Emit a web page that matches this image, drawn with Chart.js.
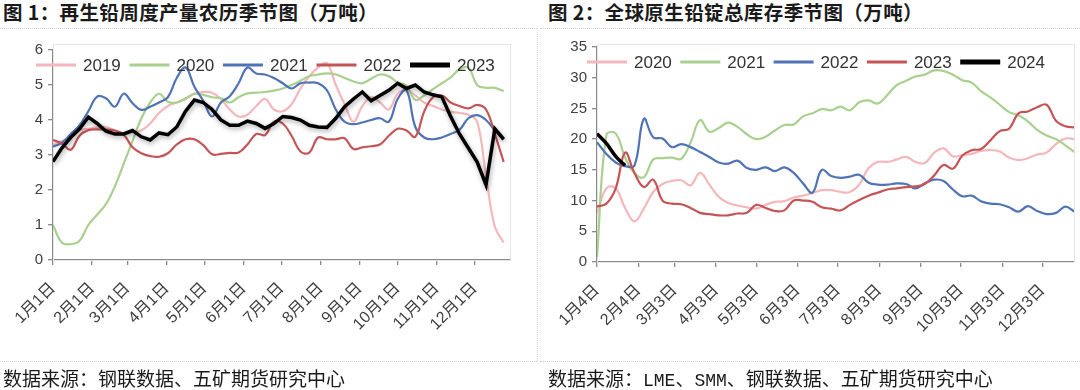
<!DOCTYPE html>
<html>
<head>
<meta charset="utf-8">
<script src="https://cdn.jsdelivr.net/npm/chart.js@4"></script>
<style>
body { margin: 0; width: 1080px; height: 390px; background: #fff; overflow: hidden; font-family: "Noto Sans CJK SC", sans-serif; }
.panel { position: absolute; top: 0; width: 540px; height: 390px; }
.title { position: absolute; left: 3px; top: -1px; font-size: 19.5px; letter-spacing: 0.4px; font-weight: bold; line-height: 26px; color: #1a1a1a; white-space: nowrap; }
.src { position: absolute; left: 3px; top: 365px; font-size: 19px; line-height: 26px; color: #1a1a1a; white-space: nowrap; }
.src .lat { font-family: "Liberation Mono", monospace; font-size: 18px; }
.sep { position: absolute; left: 0; width: 537px; border-top: 1px dotted #cfcfcf; }
.vsep { position: absolute; left: 537px; top: 28px; height: 333px; border-left: 1px dotted #d8d8d8; }
canvas { position: absolute; left: 0; top: 0; }
</style>
</head>
<body>
<div class="panel" style="left:0">
  <div class="title">图 1：再生铅周度产量农历季节图（万吨）</div>
  <div class="sep" style="top:28px"></div>
  <div class="sep" style="top:361px"></div>
  <div class="vsep"></div>
  <canvas id="leftChart" width="540" height="390"></canvas>
  <div class="src">数据来源：钢联数据、五矿期货研究中心</div>
</div>
<div class="panel" style="left:540px">
  <div class="title" style="left:8px">图 2：全球原生铅锭总库存季节图（万吨）</div>
  <div class="sep" style="top:28px;width:540px"></div>
  <div class="sep" style="top:361px;width:540px"></div>
  <canvas id="rightChart" width="540" height="390"></canvas>
  <div class="src" style="left:8px">数据来源：<span class="lat">LME</span>、<span class="lat">SMM</span>、钢联数据、五矿期货研究中心</div>
</div>
<script>
// month ticks (day of year) and their labels
const monthDaysLeft = [0, 31, 59, 90, 120, 151, 181, 212, 243, 273, 304, 334];
const monthLabelsLeft = ['1月1日', '2月1日', '3月1日', '4月1日', '5月1日', '6月1日', '7月1日', '8月1日', '9月1日', '10月1日', '11月1日', '12月1日'];
const monthDaysRight = [3, 34, 61, 92, 122, 153, 183, 214, 245, 275, 306, 336];
const monthLabelsRight = ['1月4日', '2月4日', '3月3日', '4月3日', '5月3日', '6月3日', '7月3日', '8月3日', '9月3日', '10月3日', '11月3日', '12月3日'];

// weekly secondary lead output, 万吨
const yearsLeft = ['2019', '2020', '2021', '2022', '2023'];
const output2019 = [3.3, 3.4, 3.5, 3.7, 3.75, 3.8, 3.8, 3.7, 3.6, 3.65, 3.7, 3.9, 4.2, 4.4, 4.5, 4.6, 4.75, 4.8, 4.78, 4.6, 4.3, 4.1, 4.15, 4.4, 4.6, 4.3, 4.25, 4.45, 4.9, 5.25, 5.5, 5.62, 5.0, 4.45, 3.95, 4.4, 4.65, 4.5, 4.3, 4.75, 4.85, 4.7, 4.5, 4.4, 4.3, 4.24, 4.2, 4.15, 3.95, 2.4, 0.95, 0.5];
const output2020 = [1.0, 0.5, 0.45, 0.55, 1.0, 1.3, 1.6, 2.1, 2.75, 3.4, 4.05, 4.5, 4.75, 4.52, 4.5, 4.62, 4.75, 4.72, 4.65, 4.62, 4.5, 4.65, 4.76, 4.78, 4.8, 4.84, 4.9, 5.0, 5.12, 5.25, 5.3, 5.33, 5.3, 5.2, 5.1, 5.05, 5.18, 5.3, 5.25, 5.07, 4.98, 4.57, 4.7, 4.88, 5.05, 5.22, 5.45, 5.5, 5.0, 4.92, 4.92, 4.82];
const output2021 = [3.24, 3.35, 3.6, 3.85, 4.25, 4.67, 4.62, 4.38, 4.75, 4.48, 4.29, 4.38, 4.5, 4.65, 5.2, 5.5, 4.95, 4.55, 4.1, 4.5, 4.68, 5.05, 5.5, 5.33, 5.3, 5.2, 5.05, 4.9, 5.05, 5.07, 5.05, 4.85, 4.3, 3.95, 3.88, 3.93, 4.0, 4.05, 3.95, 4.6, 4.85, 3.8, 3.5, 3.45, 3.5, 3.6, 3.72, 4.05, 4.14, 4.0, 3.7, 3.45];
const output2022 = [3.43, 3.33, 3.15, 3.55, 3.71, 3.73, 3.73, 3.7, 3.58, 3.22, 3.05, 2.97, 2.95, 3.05, 3.3, 3.45, 3.45, 3.28, 3.02, 3.03, 3.06, 3.07, 3.3, 3.6, 3.57, 3.95, 3.9, 3.55, 3.1, 3.07, 3.5, 3.45, 3.45, 3.48, 3.17, 3.22, 3.25, 3.3, 3.55, 3.75, 3.7, 3.52, 4.24, 4.65, 4.7, 4.5, 4.4, 4.33, 4.43, 4.3, 3.6, 2.8];
const output2023 = [2.81, 3.2, 3.5, 3.75, 4.08, 3.9, 3.68, 3.6, 3.6, 3.7, 3.52, 3.43, 3.63, 3.58, 3.8, 4.25, 4.57, 4.5, 4.3, 4.0, 3.85, 3.85, 3.97, 3.9, 3.76, 3.9, 4.1, 4.07, 4.0, 3.85, 3.8, 3.79, 4.05, 4.38, 4.6, 4.8, 4.55, 4.7, 4.85, 5.05, 4.9, 5.0, 4.8, 4.72, 4.66, 4.1, 3.6, 3.2, 2.8, 2.15, 3.75, 3.45];

// weekly global primary lead ingot stocks, 万吨
const yearsRight = ['2020', '2021', '2022', '2023', '2024'];
const stock2020 = [7.9, 12.0, 12.0, 8.8, 6.6, 8.7, 11.4, 12.7, 13.2, 13.3, 12.5, 14.5, 12.6, 10.6, 9.6, 9.2, 8.9, 8.7, 9.3, 9.8, 9.9, 10.5, 10.8, 11.2, 11.7, 11.7, 11.4, 11.4, 12.6, 15.3, 16.3, 16.3, 16.7, 17.1, 16.3, 16.1, 17.8, 18.5, 17.2, 17.4, 17.6, 18.1, 18.2, 18.0, 17.0, 16.6, 16.9, 17.5, 17.8, 19.2, 20.1, 20.0];
const stock2021 = [0.8, 20.7, 20.9, 17.0, 14.5, 13.8, 16.7, 16.9, 17.0, 16.8, 19.5, 23.1, 21.2, 21.8, 22.7, 22.0, 20.8, 20.0, 20.4, 21.4, 22.3, 22.4, 23.7, 24.2, 24.9, 24.7, 25.3, 24.7, 26.0, 26.3, 25.8, 27.2, 28.8, 29.5, 30.2, 30.5, 31.2, 31.1, 30.5, 29.6, 29.2, 27.8, 26.8, 25.6, 24.4, 23.9, 22.9, 21.5, 20.6, 20.0, 19.0, 17.9];
const stock2022 = [19.5, 17.6, 16.2, 15.6, 15.7, 23.3, 20.3, 20.1, 18.7, 19.2, 18.7, 17.9, 17.1, 16.2, 16.0, 16.5, 15.3, 15.0, 15.4, 14.8, 15.4, 14.5, 12.8, 11.3, 15.0, 14.0, 13.7, 13.9, 14.2, 12.9, 12.6, 12.6, 12.8, 12.7, 12.0, 12.8, 13.4, 13.2, 11.8, 10.7, 10.8, 9.9, 9.5, 9.4, 8.9, 8.2, 9.1, 8.3, 7.8, 8.0, 9.0, 8.2];
const stock2023 = [9.0, 9.5, 12.0, 17.8, 14.5, 12.2, 13.4, 10.0, 9.5, 9.4, 8.8, 8.0, 7.8, 7.6, 7.6, 7.9, 8.0, 9.3, 8.8, 8.3, 8.4, 10.0, 10.0, 9.8, 8.9, 8.7, 8.4, 9.3, 10.1, 10.8, 11.3, 11.8, 12.0, 12.2, 12.3, 12.7, 14.1, 15.8, 15.2, 17.3, 18.2, 18.4, 19.8, 21.3, 21.7, 24.2, 24.5, 25.2, 25.6, 23.0, 22.1, 21.9];
const stock2024 = [20.9, 19.3, 17.2, 15.7];

const colors = ['#F4B7BC', '#A9D08E', '#4F73B4', '#C55456', '#000000'];
const FONT = '"Liberation Sans", "Noto Sans CJK SC", sans-serif';

// one point per week, placed on a day-of-year axis
function weekly(values, firstDay) {
    return values.map((v, i) => ({ x: firstDay + i * 7, y: v }));
}

function makeDatasets(years, series, firstDay, blackTension) {
    return years.map((yr, i) => {
        const last = i === years.length - 1;
        return {
            label: yr,
            data: weekly(series[i], firstDay),
            borderColor: colors[i],
            borderWidth: last ? 3.5 : 2.2,
            tension: last ? blackTension : 0.4,
            pointRadius: 0,
            order: years.length - i,
            legendWidth: last ? 5 : 3,
            shadow: last,
        };
    });
}

// legend drawn inside the plot, plus the light frame and the shadow under the black line
const insideLegend = {
    id: 'insideLegend',
    beforeDatasetsDraw(chart, args, opts) {
        const { ctx, chartArea: a } = chart;
        ctx.save();
        ctx.strokeStyle = '#e6e6e6';
        ctx.lineWidth = 1;
        ctx.strokeRect(a.left + 0.5, opts.boxTop + 0.5, a.right - a.left, a.bottom - opts.boxTop);
        ctx.restore();
    },
    beforeDatasetDraw(chart, args, opts) {
        if (chart.data.datasets[args.index].shadow && opts.shadow) {
            const ctx = chart.ctx;
            ctx.save();
            ctx.shadowColor = 'rgba(0,0,0,0.35)';
            ctx.shadowBlur = 5;
            ctx.shadowOffsetX = 1;
            ctx.shadowOffsetY = 2;
        }
    },
    afterDatasetDraw(chart, args, opts) {
        if (chart.data.datasets[args.index].shadow && opts.shadow) {
            chart.ctx.restore();
        }
    },
    afterDatasetsDraw(chart, args, opts) {
        const ctx = chart.ctx;
        ctx.save();
        ctx.font = '17px ' + FONT;
        ctx.textBaseline = 'middle';
        chart.data.datasets.forEach((ds, i) => {
            const x = opts.x + i * opts.step;
            ctx.strokeStyle = ds.borderColor;
            ctx.lineWidth = ds.legendWidth;
            ctx.beginPath();
            ctx.moveTo(x, opts.y);
            ctx.lineTo(x + 40, opts.y);
            ctx.stroke();
            ctx.fillStyle = '#333';
            ctx.fillText(ds.label, x + 47, opts.y + 1);
        });
        ctx.restore();
    }
};

function makeScales(cfg) {
    return {
        x: {
            type: 'linear',
            min: cfg.minX,
            max: cfg.maxX,
            afterBuildTicks: s => { s.ticks = cfg.tickDays.map(v => ({ value: v })); },
            afterFit: s => { s.height = cfg.xHeight; },
            ticks: {
                autoSkip: false,
                minRotation: 45,
                maxRotation: 45,
                padding: 14,
                color: '#404040',
                font: { size: 16, family: FONT },
                callback: v => cfg.tickLabels[cfg.tickDays.indexOf(v)],
            },
            grid: { drawOnChartArea: false, drawTicks: true, tickLength: 5, color: '#8a8a8a', lineWidth: 1.3 },
            border: { color: '#8a8a8a', width: 1.5 },
        },
        y: {
            min: 0,
            max: cfg.maxY,
            afterFit: s => { s.width = cfg.yWidth; },
            ticks: { stepSize: cfg.stepY, padding: 5, color: '#404040', font: { size: 15, family: FONT } },
            grid: { drawOnChartArea: false, drawTicks: true, tickLength: 5, color: '#8a8a8a', lineWidth: 1.3 },
            border: { color: '#8a8a8a', width: 1.5 },
        },
    };
}

new Chart(document.getElementById('leftChart').getContext('2d'), {
    type: 'line',
    data: { datasets: makeDatasets(yearsLeft, [output2019, output2020, output2021, output2022, output2023], 0, 0) },
    options: {
        responsive: false,
        animation: false,
        layout: { padding: { left: 0, top: 50, right: 30, bottom: 0 } },
        scales: makeScales({ minX: 0, maxX: 362, tickDays: monthDaysLeft, tickLabels: monthLabelsLeft, maxY: 6, stepY: 1, xHeight: 130, yWidth: 53 }),
        plugins: {
            legend: { display: false },
            tooltip: { enabled: false },
            insideLegend: { x: 36, y: 65, step: 93.5, boxTop: 44, shadow: true },
        },
    },
    plugins: [insideLegend],
});

new Chart(document.getElementById('rightChart').getContext('2d'), {
    type: 'line',
    data: { datasets: makeDatasets(yearsRight, [stock2020, stock2021, stock2022, stock2023, stock2024], 3, 0.4) },
    options: {
        responsive: false,
        animation: false,
        layout: { padding: { left: 0, top: 47, right: 6, bottom: 0 } },
        scales: makeScales({ minX: 3, maxX: 359.5, tickDays: monthDaysRight, tickLabels: monthLabelsRight, maxY: 35, stepY: 5, xHeight: 128, yWidth: 57 }),
        plugins: {
            legend: { display: false },
            tooltip: { enabled: false },
            insideLegend: { x: 47, y: 62, step: 93.3, boxTop: 44, shadow: false },
        },
    },
    plugins: [insideLegend],
});
</script>
</body>
</html>
